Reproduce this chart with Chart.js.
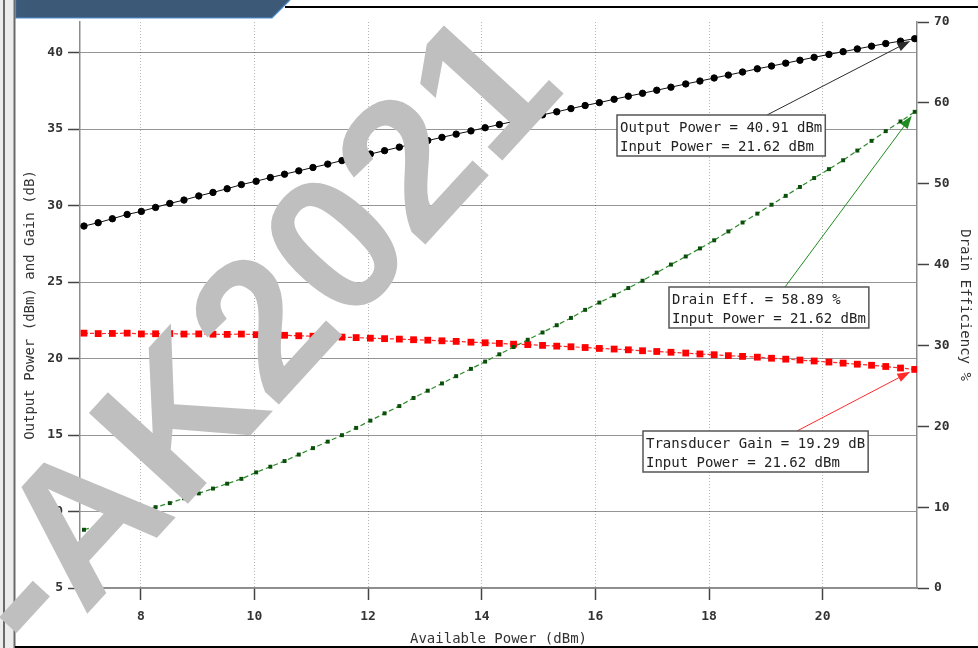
<!DOCTYPE html>
<html>
<head>
<meta charset="utf-8">
<script src="https://cdn.jsdelivr.net/npm/chart.js@4.4.1/dist/chart.umd.min.js"></script>
<style>
  html, body { margin: 0; padding: 0; background: #fff; overflow: hidden; }
  #wrap { position: relative; width: 978px; height: 648px; }
  canvas { display: block; }
</style>
</head>
<body>
<div id="wrap"><canvas id="c" width="978" height="648"></canvas></div>
<script>
// Power sweep (dBm)
const availablePower = [
  7.00, 7.25, 7.50, 7.76, 8.01, 8.26, 8.51, 8.76, 9.02, 9.27,
  9.52, 9.77, 10.03, 10.28, 10.53, 10.78, 11.03, 11.29, 11.54, 11.79,
  12.04, 12.29, 12.55, 12.80, 13.05, 13.30, 13.55, 13.81, 14.06, 14.31,
  14.56, 14.81, 15.07, 15.32, 15.57, 15.82, 16.07, 16.33, 16.58, 16.83,
  17.08, 17.33, 17.59, 17.84, 18.09, 18.34, 18.59, 18.85, 19.10, 19.35,
  19.60, 19.85, 20.11, 20.36, 20.61, 20.86, 21.11, 21.37, 21.62
];
// Output power (dBm)
const outputPower = [
  28.66, 28.88, 29.14, 29.42, 29.62, 29.88, 30.14, 30.36, 30.63, 30.86,
  31.10, 31.37, 31.59, 31.83, 32.05, 32.27, 32.49, 32.71, 32.94, 33.16,
  33.37, 33.59, 33.82, 34.03, 34.25, 34.46, 34.67, 34.88, 35.09, 35.30,
  35.50, 35.72, 35.93, 36.13, 36.34, 36.54, 36.73, 36.95, 37.15, 37.34,
  37.54, 37.74, 37.95, 38.14, 38.34, 38.53, 38.73, 38.94, 39.12, 39.31,
  39.50, 39.69, 39.88, 40.06, 40.24, 40.42, 40.59, 40.75, 40.91
];
// Transducer gain (dB)
const transducerGain = [
  21.66, 21.63, 21.64, 21.66, 21.61, 21.62, 21.63, 21.60, 21.61, 21.59,
  21.58, 21.60, 21.56, 21.55, 21.52, 21.49, 21.46, 21.42, 21.40, 21.37,
  21.33, 21.30, 21.27, 21.23, 21.20, 21.16, 21.12, 21.07, 21.03, 20.99,
  20.94, 20.91, 20.86, 20.81, 20.77, 20.72, 20.66, 20.62, 20.57, 20.51,
  20.46, 20.41, 20.36, 20.30, 20.25, 20.19, 20.14, 20.09, 20.02, 19.96,
  19.90, 19.84, 19.77, 19.70, 19.63, 19.56, 19.48, 19.38, 19.29
];
// Drain efficiency (%)
const drainEfficiency = [
  7.2, 7.7, 8.2, 8.8, 9.4, 10.0, 10.5, 11.1, 11.7, 12.3,
  12.9, 13.5, 14.3, 15.0, 15.7, 16.5, 17.3, 18.1, 18.9, 19.8,
  20.7, 21.6, 22.5, 23.5, 24.4, 25.3, 26.2, 27.1, 28.0, 28.9,
  29.8, 30.7, 31.6, 32.5, 33.4, 34.4, 35.3, 36.2, 37.1, 38.0,
  39.0, 40.0, 41.0, 42.0, 43.0, 44.1, 45.2, 46.3, 47.4, 48.5,
  49.6, 50.7, 51.8, 52.9, 54.1, 55.3, 56.5, 57.7, 58.89
];
// Axis tick values
const xTicks = [8, 10, 12, 14, 16, 18, 20];
const leftTicks = [5, 10, 15, 20, 25, 30, 35, 40];
const rightTicks = [0, 10, 20, 30, 40, 50, 60, 70];

const MONO = '"DejaVu Sans Mono", "Liberation Mono", monospace';

function pts(ys) { return availablePower.map((x, i) => ({ x: x, y: ys[i] })); }
function fixedTicks(list) { return scale => { scale.ticks = list.map(v => ({ value: v })); }; }

const tickFont = { family: MONO, size: 13, weight: 'bold' };
const titleFont = { family: MONO, size: 14 };

// Boxed markers pointing at the last sample of each curve
const callouts = [
  { ds: 0, box: [617, 115], from: [767, 115], color: '#2a2a2a',
    lines: () => ['Output Power = ' + outputPower[outputPower.length - 1].toFixed(2) + ' dBm',
                  'Input Power = ' + availablePower[availablePower.length - 1].toFixed(2) + ' dBm'] },
  { ds: 2, box: [669, 287], from: [785, 287], color: '#1e8c1e',
    lines: () => ['Drain Eff. = ' + drainEfficiency[drainEfficiency.length - 1].toFixed(2) + ' %',
                  'Input Power = ' + availablePower[availablePower.length - 1].toFixed(2) + ' dBm'] },
  { ds: 1, box: [643, 431], from: [797, 431], color: '#ff2a2a',
    lines: () => ['Transducer Gain = ' + transducerGain[transducerGain.length - 1].toFixed(2) + ' dB',
                  'Input Power = ' + availablePower[availablePower.length - 1].toFixed(2) + ' dBm'] }
];

function drawArrow(ctx, x0, y0, x1, y1, color) {
  const dx = x1 - x0, dy = y1 - y0, L = Math.hypot(dx, dy);
  const ux = dx / L, uy = dy / L, hl = 13, hw = 4.5;
  ctx.strokeStyle = color; ctx.lineWidth = 1;
  ctx.beginPath(); ctx.moveTo(x0, y0); ctx.lineTo(x1 - ux * hl * 0.7, y1 - uy * hl * 0.7); ctx.stroke();
  ctx.fillStyle = color;
  ctx.beginPath();
  ctx.moveTo(x1, y1);
  ctx.lineTo(x1 - ux * hl - uy * hw, y1 - uy * hl + ux * hw);
  ctx.lineTo(x1 - ux * hl + uy * hw, y1 - uy * hl - ux * hw);
  ctx.closePath(); ctx.fill();
}

const decorPlugin = {
  id: 'decor',
  afterDraw(chart) {
    const ctx = chart.ctx;
    ctx.save();
    // callouts
    ctx.font = '14px ' + MONO;
    callouts.forEach(c => {
      const meta = chart.getDatasetMeta(c.ds);
      const last = meta.data[meta.data.length - 1];
      const dx = last.x - c.from[0], dy = last.y - c.from[1], L = Math.hypot(dx, dy);
      const tx = last.x - dx / L * 5, ty = last.y - dy / L * 5;
      drawArrow(ctx, c.from[0], c.from[1], tx, ty, c.color);
      const lines = c.lines();
      const w = Math.max(...lines.map(t => ctx.measureText(t).width)) + 6;
      const h = 41;
      ctx.fillStyle = '#fff';
      ctx.fillRect(c.box[0], c.box[1], w, h);
      ctx.strokeStyle = '#555'; ctx.lineWidth = 1.5;
      ctx.strokeRect(c.box[0], c.box[1], w, h);
      ctx.fillStyle = '#222'; ctx.textBaseline = 'middle'; ctx.textAlign = 'left';
      ctx.fillText(lines[0], c.box[0] + 3, c.box[1] + 13);
      ctx.fillText(lines[1], c.box[0] + 3, c.box[1] + 32);
    });

    // window frame
    ctx.fillStyle = '#ececec'; ctx.fillRect(0, 0, 15, 648);
    ctx.fillStyle = '#6a6a6a'; ctx.fillRect(3, 0, 2, 648); ctx.fillRect(13.5, 0, 2, 648);
    ctx.fillStyle = '#3c5a78';
    ctx.beginPath(); ctx.moveTo(15, 0); ctx.lineTo(290, 0); ctx.lineTo(272, 18); ctx.lineTo(15, 18); ctx.closePath(); ctx.fill();
    ctx.strokeStyle = '#4f8fd0'; ctx.lineWidth = 1.2;
    ctx.beginPath(); ctx.moveTo(15.5, 0); ctx.lineTo(15.5, 18); ctx.lineTo(272, 18); ctx.lineTo(290, 0); ctx.stroke();
    ctx.fillStyle = '#000';
    ctx.fillRect(285, 6, 693, 2);
    ctx.fillRect(15, 646, 963, 2);

    // watermark
    ctx.translate(264, 341);
    ctx.rotate(-47.5 * Math.PI / 180);
    ctx.font = 'bold 195px "Liberation Sans", Arial, sans-serif';
    ctx.fillStyle = '#bfbfbf';
    ctx.textAlign = 'center'; ctx.textBaseline = 'middle';
    ctx.fillText('-AK2021', 0, 0);
    ctx.restore();
  }
};

new Chart(document.getElementById('c'), {
  type: 'scatter',
  data: {
    datasets: [
      { label: 'Output Power', data: pts(outputPower), yAxisID: 'y', showLine: true,
        borderColor: '#111', borderWidth: 1, pointStyle: 'circle', pointRadius: 3.2,
        pointBackgroundColor: '#000', pointBorderColor: '#000', pointBorderWidth: 1, order: 1 },
      { label: 'Transducer Gain', data: pts(transducerGain), yAxisID: 'y', showLine: true,
        borderColor: '#ff2a2a', borderWidth: 1.2, borderDash: [4, 2], pointStyle: 'rect', pointRadius: 4.8,
        pointBackgroundColor: '#f00', pointBorderColor: '#f00', pointBorderWidth: 0, order: 3 },
      { label: 'Drain Efficiency', data: pts(drainEfficiency), yAxisID: 'y1', showLine: true,
        borderColor: '#2c8a2c', borderWidth: 1.2, borderDash: [5, 3], pointStyle: 'rect', pointRadius: 2.8,
        pointBackgroundColor: '#0a4f0a', pointBorderColor: '#0a4f0a', pointBorderWidth: 0, order: 2 }
    ]
  },
  options: {
    responsive: false,
    animation: false,
    devicePixelRatio: 1,
    layout: { padding: { left: 22, right: 5, top: 22, bottom: 0 } },
    plugins: { legend: { display: false }, tooltip: { enabled: false } },
    scales: {
      x: {
        type: 'linear', min: 6.93, max: 21.66,
        afterBuildTicks: fixedTicks(xTicks),
        afterFit: s => { s.height = 60; },
        grid: { color: '#b4b4b4', lineWidth: 1, tickLength: 12, tickColor: '#444', tickWidth: 1.5 },
        border: { display: true, color: '#8c8c8c', width: 1.5, dash: [1, 2] },
        ticks: { font: tickFont, color: '#333', padding: 9, maxRotation: 0 },
        title: { display: true, text: 'Available Power (dBm)', font: titleFont, color: '#333', padding: { top: 0, bottom: 0 } }
      },
      y: {
        position: 'left', min: 5, max: 42,
        afterBuildTicks: fixedTicks(leftTicks),
        afterFit: s => { s.width = 58; },
        grid: { color: '#2a2a2a', lineWidth: 1, tickLength: 12, tickColor: '#444', tickWidth: 1.5 },
        border: { display: true, color: '#8c8c8c', width: 1.5, dash: [1, 1] },
        ticks: { font: tickFont, color: '#333', padding: 5 },
        title: { display: true, text: 'Output Power (dBm) and Gain (dB)', font: titleFont, color: '#333', padding: { top: 0, bottom: 0 } }
      },
      y1: {
        position: 'right', min: 0, max: 70,
        afterBuildTicks: fixedTicks(rightTicks),
        afterFit: s => { s.width = 56; },
        grid: { drawOnChartArea: false, tickLength: 12, tickColor: '#444', tickWidth: 1.5 },
        border: { display: true, color: '#8c8c8c', width: 1.5 },
        ticks: { font: tickFont, color: '#333', padding: 5 },
        title: { display: true, text: 'Drain Efficiency %', font: titleFont, color: '#333', padding: { top: 0, bottom: 0 } }
      }
    }
  },
  plugins: [decorPlugin]
});
</script>
</body>
</html>
